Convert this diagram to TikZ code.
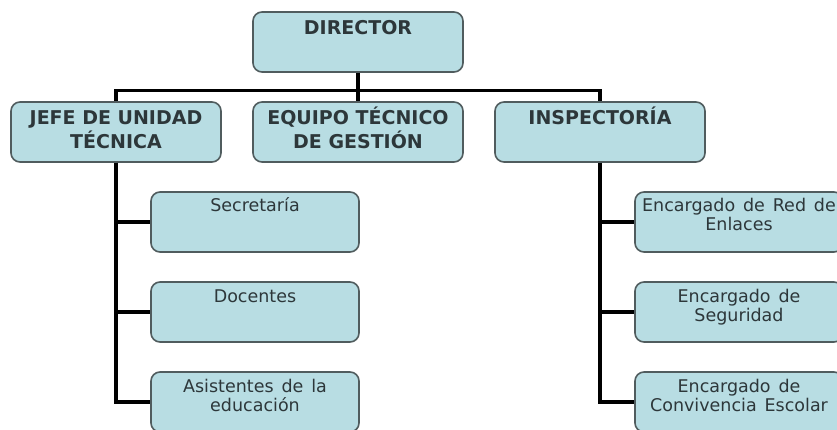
\documentclass[tikz,border=0pt]{standalone}
\usepackage{fontspec}
\setmainfont{DejaVu Sans}
\usetikzlibrary{trees}
\definecolor{cajaazul}{RGB}{184,221,227}
\definecolor{bordecaja}{RGB}{80,92,94}
\definecolor{textocaja}{RGB}{45,55,58}
% texto arriba en la caja
\newcommand{\arriba}[1]{\begin{tabular}[t]{@{}c@{}}#1\end{tabular}}
\newcommand{\espaciado}{\spaceskip=0.45em plus 0.1em\relax}
\tikzset{
	cargo/.style={draw=bordecaja, line width=1.6pt, fill=cajaazul,
		rounded corners=9pt, text=textocaja,
		minimum width=210pt, minimum height=60pt, inner sep=3pt,
		text height=19.5pt, text depth=34.5pt,
		font=\bfseries\fontsize{19}{21}\selectfont},
	subcargo/.style={cargo, minimum width=208pt,
		text height=17pt, text depth=37pt,
		font=\fontsize{17.5}{19}\selectfont\espaciado}
}
\begin{document}
\begin{tikzpicture}[x=1pt, y=1pt,
		edge from parent/.style={draw, black, line width=3.2pt},
		level 1/.style={level distance=90pt,
			sibling distance=242pt,
			edge from parent path={(\tikzparentnode.south) -- ++(0,-18) -| (\tikzchildnode.north)}},
		level 2/.style={grow via three points={one child at (139,-90) and two children at (139,-90) and (139,-180)},
			edge from parent path={(\tikzparentnode.south) |- (\tikzchildnode.west)}}]
	\path[use as bounding box, clip] (0,0) rectangle (837,-430);
	\node[cargo] (director) at (358,-42) {\arriba{DIRECTOR}}
	child {node[cargo] (jefe) {\arriba{JEFE DE UNIDAD\\TÉCNICA}}
		child {node[subcargo] (secretaria) {\arriba{Secretaría}}}
		child {node[subcargo] (docentes) {\arriba{Docentes}}}
		child {node[subcargo] (asistentes) {\arriba{Asistentes de la\\educación}}}
	}
	child {node[cargo] (equipo) {\arriba{EQUIPO TÉCNICO\\DE GESTIÓN}}}
	child {node[cargo] (inspectoria) {\arriba{INSPECTORÍA}}
		child {node[subcargo] (enlaces) {\arriba{Encargado de Red de\\Enlaces}}}
		child {node[subcargo] (seguridad) {\arriba{Encargado de\\Seguridad}}}
		child {node[subcargo] (convivencia) {\arriba{Encargado de\\Convivencia Escolar}}}
	}
	;
\end{tikzpicture}
\end{document}
